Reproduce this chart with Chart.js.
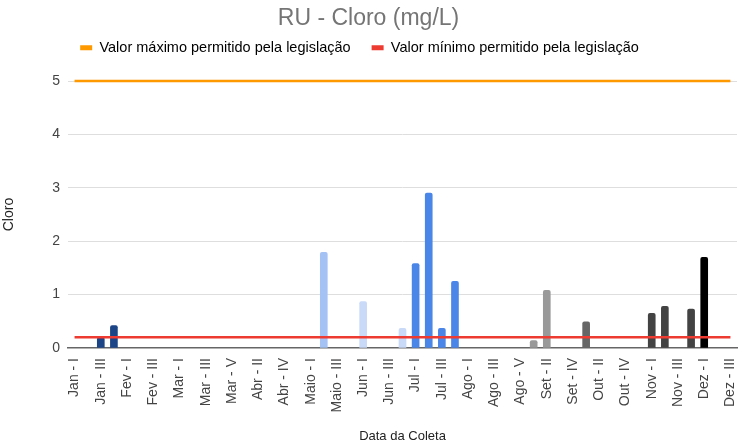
<!DOCTYPE html>
<html lang="pt-BR">
<head>
    <meta charset="UTF-8">
    <script src="https://cdn.jsdelivr.net/npm/chart.js"></script>
    <title>RU - Cloro</title>
    <style>
        html, body { margin: 0; padding: 0; background: #ffffff; }
        #wrap { width: 742px; height: 446px; }
    </style>
</head>
<body>
<div id="wrap"><canvas id="grafico"></canvas></div>
<script>
    // Datas de coleta (semanas de cada mês)
    const datas = [
        'Jan - I', 'Jan - II', 'Jan - III', 'Jan - IV',
        'Fev - I', 'Fev - II', 'Fev - III', 'Fev - IV',
        'Mar - I', 'Mar - II', 'Mar - III', 'Mar - IV', 'Mar - V',
        'Abr - I', 'Abr - II', 'Abr - III', 'Abr - IV', 'Abr - V',
        'Maio - I', 'Maio - II', 'Maio - III', 'Maio - IV',
        'Jun - I', 'Jun - II', 'Jun - III', 'Jun - IV',
        'Jul - I', 'Jul - II', 'Jul - III', 'Jul - IV',
        'Ago - I', 'Ago - II', 'Ago - III', 'Ago - IV', 'Ago - V',
        'Set - I', 'Set - II', 'Set - III', 'Set - IV',
        'Out - I', 'Out - II', 'Out - III', 'Out - IV', 'Out - V',
        'Nov - I', 'Nov - II', 'Nov - III', 'Nov - IV',
        'Dez - I', 'Dez - II', 'Dez - III'
    ];

    // Cloro medido (mg/L), null = sem coleta
    const cloro = [
        null, null, 0.2, 0.42,
        null, null, null, null,
        null, null, null, null, null,
        null, null, null, null, null,
        null, 1.79, null, null,
        0.87, null, null, 0.37,
        1.58, 2.9, 0.37, 1.25,
        null, null, null, null, null,
        0.14, 1.08, null, null,
        0.49, null, null, null, null,
        0.65, 0.78, null, 0.73,
        1.7, null, null
    ];

    // Cor de cada mês
    const coresMes = {
        'Jan': '#1c4587', 'Fev': '#1c4587', 'Mar': '#1c4587', 'Abr': '#1c4587',
        'Maio': '#a4c2f4', 'Jun': '#c9daf8', 'Jul': '#4a86e8', 'Ago': '#4a86e8',
        'Set': '#999999', 'Out': '#666666', 'Nov': '#434343', 'Dez': '#000000'
    };

    const yTicks = [0, 1, 2, 3, 4, 5];
    const limiteMax = 5;
    const limiteMin = 0.2;

    const fonte = "'Liberation Sans', Arial, sans-serif";

    // ajustes da legenda: mais espaço abaixo e um pouco à esquerda
    const ajusteLegenda = {
        id: 'ajusteLegenda',
        beforeInit(chart) {
            const fit = chart.legend.fit;
            chart.legend.fit = function () {
                fit.call(this);
                this.height += 16;
            };
        },
        afterLayout(chart) {
            chart.legend.left -= 9;
            chart.legend.right -= 9;
        }
    };

    const ctx = document.getElementById('grafico').getContext('2d');
    const chart = new Chart(ctx, {
        data: {
            labels: datas,
            datasets: [
                {
                    type: 'line',
                    label: 'Valor máximo permitido pela legislação',
                    data: datas.map(() => limiteMax),
                    borderColor: '#ff9900',
                    backgroundColor: '#ff9900',
                    borderWidth: 2.5,
                    pointRadius: 0,
                    clip: 6,
                    order: 1
                },
                {
                    type: 'line',
                    label: 'Valor mínimo permitido pela legislação',
                    data: datas.map(() => limiteMin),
                    borderColor: '#ee3b32',
                    backgroundColor: '#ee3b32',
                    borderWidth: 2.5,
                    pointRadius: 0,
                    clip: 6,
                    order: 1
                },
                {
                    type: 'bar',
                    label: 'Cloro',
                    data: cloro,
                    backgroundColor: datas.map(d => coresMes[d.split(' - ')[0]]),
                    barThickness: 7,
                    borderRadius: { topLeft: 2, topRight: 2 },
                    borderSkipped: 'bottom',
                    order: 2
                }
            ]
        },
        options: {
            responsive: true,
            maintainAspectRatio: false,
            animation: false,
            layout: { padding: { left: 0, right: 5, top: 0, bottom: 0 } },
            plugins: {
                title: {
                    display: true,
                    text: 'RU - Cloro (mg/L)',
                    color: '#757575',
                    font: { family: fonte, size: 23, weight: 'normal' },
                    padding: { top: 5, bottom: -13 }
                },
                legend: {
                    position: 'top',
                    labels: {
                        color: '#222222',
                        font: { family: fonte, size: 14.5 },
                        boxWidth: 12,
                        boxHeight: 5,
                        padding: 21,
                        generateLabels: c => c.data.datasets.slice(0, 2).map((ds, i) => ({
                            text: ds.label,
                            fillStyle: ds.borderColor,
                            strokeStyle: ds.borderColor,
                            lineWidth: 0,
                            datasetIndex: i
                        }))
                    }
                },
                tooltip: { enabled: false }
            },
            scales: {
                x: {
                    grid: { display: false },
                    border: { display: true, color: '#666666', width: 1.5 },
                    ticks: {
                        autoSkip: false,
                        minRotation: 90,
                        maxRotation: 90,
                        padding: 2,
                        color: '#444444',
                        font: { family: fonte, size: 14 },
                        callback: function (v, i) { return i % 2 === 0 ? this.getLabelForValue(v) : ''; }
                    },
                    title: {
                        display: true,
                        text: 'Data da Coleta',
                        color: '#222222',
                        font: { family: fonte, size: 13 },
                        padding: { top: 4, bottom: 2 }
                    },
                    afterFit: s => {
                        s.height = 98;
                        s.paddingLeft = 0;
                        s.paddingRight = 0;
                    }
                },
                y: {
                    min: 0,
                    max: 5,
                    afterBuildTicks: s => { s.ticks = yTicks.map(v => ({ value: v })); },
                    grid: {
                        drawTicks: false,
                        color: c => c.tick && c.tick.value === 0 ? 'rgba(0,0,0,0)' : '#dedede',
                        lineWidth: 1
                    },
                    border: { display: false },
                    ticks: {
                        padding: 8,
                        color: '#444444',
                        font: { family: fonte, size: 14 }
                    },
                    title: {
                        display: true,
                        text: 'Cloro',
                        color: '#222222',
                        font: { family: fonte, size: 14 },
                        padding: { top: 1, bottom: 2 }
                    },
                    afterFit: s => { s.width = 68; }
                }
            }
        },
        plugins: [ajusteLegenda]
    });
</script>
</body>
</html>
